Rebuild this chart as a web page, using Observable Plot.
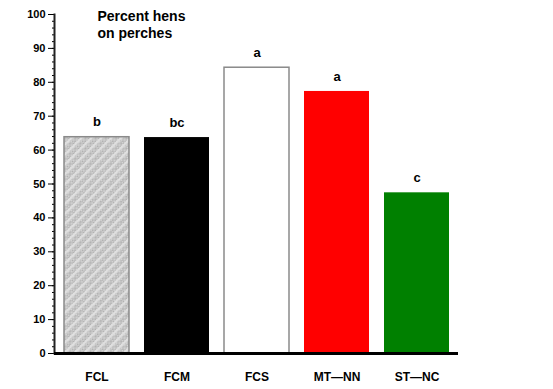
<!DOCTYPE html>
<html>
<head>
<meta charset="utf-8">
<script src="https://cdn.jsdelivr.net/npm/d3@7"></script>
<script src="https://cdn.jsdelivr.net/npm/@observablehq/plot@0.6"></script>
<style>
  html, body { margin: 0; padding: 0; background: #fff; }
  #chart svg { display: block; font-family: "Liberation Sans", Arial, Helvetica, sans-serif; }
</style>
</head>
<body>
<div id="chart"></div>
<script>
// Data
const categories = ["FCL", "FCM", "FCS", "MT—NN", "ST—NC"];
const values = [63.8, 63.7, 84.3, 77.3, 47.4];
const letters = ["b", "bc", "a", "a", "c"];
const yTicks = [0, 10, 20, 30, 40, 50, 60, 70, 80, 90, 100];
const titleText = "Percent hens\non perches";

// Styles
const fills = ["url(#hatch)", "#000000", "#ffffff", "#ff0000", "#008000"];
const outlined = ["FCL", "FCS"];

const data = categories.map((c, i) => ({cat: c, value: values[i], letter: letters[i]}));

const chart = Plot.plot({
  width: 553,
  height: 389,
  marginLeft: 54,
  marginRight: 95,
  marginTop: 14,
  marginBottom: 36,
  style: {fontFamily: "'Liberation Sans', Arial, Helvetica, sans-serif", color: "#000", background: "#fff"},
  x: {domain: categories, paddingInner: 0.19, paddingOuter: 0.11, label: null},
  y: {domain: [0, 100], label: null},
  color: {domain: categories, range: fills},
  marks: [
    Plot.barY(data, {x: "cat", y: "value", fill: "cat"}),
    Plot.barY(data, {x: "cat", y: "value", fill: "none", stroke: "#8a8a8a", strokeWidth: 1.5,
      filter: d => outlined.includes(d.cat)}),
    Plot.text(data, {x: "cat", y: "value", text: "letter", dy: -15, fontSize: 13, fontWeight: "bold", fill: "#000"}),
    Plot.axisY({ticks: yTicks, tickSize: 6, tickPadding: 3, fontSize: 11, fontWeight: "bold", label: null, strokeWidth: 1}),
    Plot.axisY({ticks: d3.range(0, 101, 2), tickSize: 2, text: null, label: null}),
    Plot.axisX({tickSize: 0, tickPadding: 19, fontSize: 12, fontWeight: "bold", label: null}),
    Plot.frame({anchor: "left", stroke: "#222", strokeWidth: 2}),
    Plot.ruleY([0], {stroke: "#000", strokeWidth: 3}),
    Plot.text([titleText], {frameAnchor: "top-left", dx: 43, dy: -6, lineAnchor: "top", textAnchor: "start",
      fontSize: 14, fontWeight: "bold", lineHeight: 1.25, fill: "#000"})
  ]
});

// Hatch pattern for FCL
const ns = "http://www.w3.org/2000/svg";
const defs = document.createElementNS(ns, "defs");
defs.innerHTML = `
  <pattern id="dots" patternUnits="userSpaceOnUse" width="2" height="2">
    <rect width="2" height="2" fill="#d6d6d6"/>
    <rect width="1" height="1" fill="#b0b0b0"/>
    <rect x="1" y="1" width="1" height="1" fill="#b0b0b0"/>
  </pattern>
  <pattern id="hatch" patternUnits="userSpaceOnUse" width="7" height="7" patternTransform="rotate(45)">
    <rect width="7" height="7" fill="url(#dots)"/>
    <rect width="2.5" height="7" fill="#e4e4e4" opacity="0.85"/>
  </pattern>`;
chart.insertBefore(defs, chart.firstChild);

document.getElementById("chart").appendChild(chart);
</script>
</body>
</html>
